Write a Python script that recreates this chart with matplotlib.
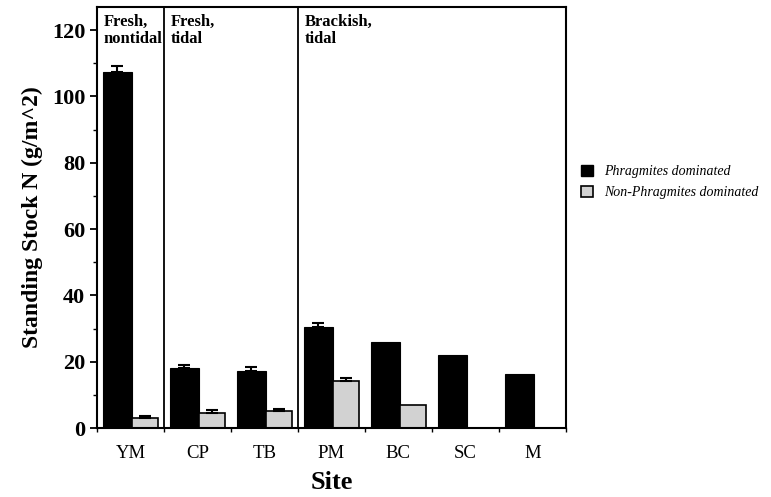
import matplotlib.pyplot as plt
import numpy as np
from matplotlib.patches import Patch

plt.rcParams['font.family'] = ['Liberation Serif', 'DejaVu Serif']

sites = ["YM", "CP", "TB", "PM", "BC", "SC", "M"]
phrag = [107.5, 18.2, 17.2, 30.6, 25.9, 22.0, 16.3]
phrag_err = [1.8, 0.8, 1.2, 1.0, 0, 0, 0]
nonphrag = [3.0, 4.4, 5.1, 14.1, 7.0, np.nan, np.nan]
nonphrag_err = [0.7, 1.1, 0.5, 1.0, 0, 0, 0]
groups = ["Fresh,\nnontidal", "Fresh,\ntidal", "Brackish,\ntidal"]
group_start = [0, 1, 3]

x = np.arange(len(sites))

fig = plt.figure(figsize=(7.71, 4.97), dpi=100)
ax = fig.add_axes((0.1258, 0.1388, 0.734 - 0.1258, 0.986 - 0.1388))

ax.bar(x - 0.195, phrag, width=0.43, color='black', edgecolor='black',
       linewidth=0.8)
ok = ~np.isnan(np.array(nonphrag))
ax.bar(x[ok] + 0.215, np.array(nonphrag)[ok], width=0.39, color='#d2d2d2',
       edgecolor='black', linewidth=1.2)

# one-sided error bars, only where there is an error
ekw = dict(fmt='none', ecolor='black', elinewidth=1.5, capthick=1.5, capsize=4)
pe = np.array(phrag_err)
m = pe > 0
ax.errorbar(x[m] - 0.195, np.array(phrag)[m],
            yerr=[np.zeros(m.sum()), pe[m]], **ekw)
ne = np.array(nonphrag_err)
m = ne > 0
ax.errorbar(x[m] + 0.215, np.array(nonphrag)[m],
            yerr=[np.zeros(m.sum()), ne[m]], **ekw)

ax.set_xlim(-0.5, len(sites) - 0.5)
ax.set_ylim(0, 127)

# group separators
for s in group_start[1:]:
    ax.axvline(s - 0.5, color='black', lw=1.3)
for g, s in zip(groups, group_start):
    ax.text(s - 0.5 + 0.1, 124.8, g, ha='left', va='top', fontsize=12,
            fontweight='bold', linespacing=1.05)

ax.set_yticks(np.arange(0, 121, 20))
ax.set_yticks(np.arange(10, 121, 20), minor=True)
ax.set_yticklabels([str(v) for v in range(0, 121, 20)], fontsize=16,
                   fontweight='bold')
ax.tick_params(axis='y', which='major', direction='out', length=5, width=1.3)
ax.tick_params(axis='y', which='minor', direction='out', length=3, width=1)

ax.set_xticks(x)
ax.set_xticklabels(sites, fontsize=13.5)
ax.set_xticks(np.arange(-0.5, len(sites), 1), minor=True)
ax.tick_params(axis='x', which='major', length=0, pad=12)
ax.tick_params(axis='x', which='minor', direction='out', length=3, width=1)

for sp in ax.spines.values():
    sp.set_linewidth(1.5)

ax.set_ylabel("Standing Stock N (g/m^2)", fontsize=17, fontweight='bold',
              labelpad=6)
ax.set_xlabel("Site", fontsize=19, fontweight='bold', labelpad=7)

handles = [Patch(facecolor='black', edgecolor='black', label='Phragmites dominated'),
           Patch(facecolor='#d2d2d2', edgecolor='black', lw=1.2,
                 label='Non-Phragmites dominated')]
fig.legend(handles=handles, loc='upper left', bbox_to_anchor=(0.737, 0.694),
           frameon=False, prop={'style': 'italic', 'size': 10},
           handlelength=0.9, handleheight=0.9, handletextpad=0.8,
           labelspacing=0.55)

fig.savefig("out.png", dpi=100)
